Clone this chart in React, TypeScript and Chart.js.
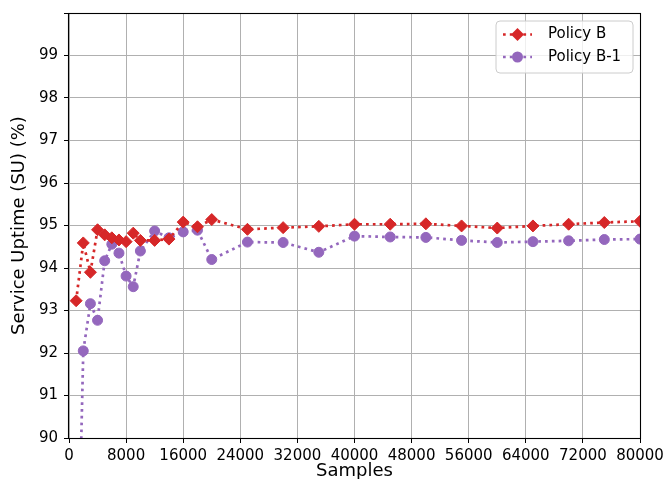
import React, { useEffect, useRef } from "react";
import { Chart, registerables } from "chart.js";

Chart.register(...registerables);

const samples = [1000, 2000, 3000, 4000, 5000, 6000, 7000, 8000, 9000, 10000, 12000, 14000, 16000, 18000, 20000, 25000, 30000, 35000, 40000, 45000, 50000, 55000, 60000, 65000, 70000, 75000, 80000];
const policyB = [93.23, 94.59, 93.9, 94.9, 94.78, 94.71, 94.66, 94.62, 94.82, 94.65, 94.65, 94.68, 95.08, 94.97, 95.14, 94.91, 94.95, 94.98, 95.03, 95.03, 95.04, 94.99, 94.94, 94.99, 95.03, 95.07, 95.1];
const policyB1 = [84.7, 92.05, 93.16, 92.77, 94.17, 94.56, 94.35, 93.81, 93.56, 94.4, 94.87, 94.71, 94.85, 94.89, 94.2, 94.61, 94.6, 94.37, 94.75, 94.73, 94.72, 94.65, 94.6, 94.62, 94.64, 94.67, 94.68];
const seriesNames = ["Policy B", "Policy B-1"];
const xTitle = "Samples";
const yTitle = "Service Uptime (SU) (%)";

const RED = "#d62728";
const PURPLE = "#9467bd";
const FONT = "DejaVu Sans";

const framePlugin = {
  id: "frame",
  afterDatasetsDraw(chart: any) {
    const { ctx, chartArea } = chart;
    const l = Math.round(chartArea.left) - 0.5;
    const t = Math.round(chartArea.top) + 0.5;
    const r = Math.round(chartArea.right) + 0.5;
    const b = Math.round(chartArea.bottom) + 0.5;
    ctx.save();
    ctx.strokeStyle = "#000";
    ctx.lineWidth = 1.1;
    ctx.strokeRect(l, t, r - l, b - t);
    ctx.restore();
  },
  afterDraw(chart: any) {
    const { ctx, chartArea } = chart;
    const w = 137;
    const h = 52;
    const x0 = chartArea.right - 7 - w;
    const y0 = chartArea.top + 8;
    ctx.save();
    const rad = 4;
    ctx.beginPath();
    ctx.moveTo(x0 + rad, y0);
    ctx.lineTo(x0 + w - rad, y0);
    ctx.arcTo(x0 + w, y0, x0 + w, y0 + rad, rad);
    ctx.lineTo(x0 + w, y0 + h - rad);
    ctx.arcTo(x0 + w, y0 + h, x0 + w - rad, y0 + h, rad);
    ctx.lineTo(x0 + rad, y0 + h);
    ctx.arcTo(x0, y0 + h, x0, y0 + h - rad, rad);
    ctx.lineTo(x0, y0 + rad);
    ctx.arcTo(x0, y0, x0 + rad, y0, rad);
    ctx.closePath();
    ctx.fillStyle = "rgba(255,255,255,0.8)";
    ctx.fill();
    ctx.strokeStyle = "#cccccc";
    ctx.lineWidth = 1;
    ctx.stroke();

    const rows = [
      { name: seriesNames[0], color: RED, shape: "diamond", y: y0 + 13.5 },
      { name: seriesNames[1], color: PURPLE, shape: "circle", y: y0 + 36 },
    ];
    rows.forEach((row) => {
      const lx0 = x0 + 7;
      const lx1 = x0 + 36;
      const cx = (lx0 + lx1) / 2;
      ctx.beginPath();
      ctx.setLineDash([2.7, 4.1]);
      ctx.strokeStyle = row.color;
      ctx.lineWidth = 2.7;
      ctx.moveTo(lx0, row.y);
      ctx.lineTo(lx1, row.y);
      ctx.stroke();
      ctx.setLineDash([]);
      ctx.fillStyle = row.color;
      ctx.beginPath();
      if (row.shape === "diamond") {
        const r = 6.5;
        ctx.moveTo(cx - r, row.y);
        ctx.lineTo(cx, row.y - r);
        ctx.lineTo(cx + r, row.y);
        ctx.lineTo(cx, row.y + r);
        ctx.closePath();
      } else {
        ctx.arc(cx, row.y, 5.5, 0, Math.PI * 2);
      }
      ctx.fill();
      ctx.fillStyle = "#000";
      ctx.font = `15px "${FONT}"`;
      ctx.textBaseline = "middle";
      ctx.textAlign = "left";
      ctx.fillText(row.name, x0 + 52, row.y);
    });
    ctx.restore();
  },
};

export default function App() {
  const ref = useRef<HTMLCanvasElement | null>(null);
  useEffect(() => {
    if (!ref.current) return;
    Chart.defaults.font.family = FONT;
    const chart = new Chart(ref.current, {
      type: "line",
      data: {
        datasets: [
          {
            label: seriesNames[0],
            data: samples.map((s, i) => ({ x: s, y: policyB[i] })),
            borderColor: RED,
            backgroundColor: RED,
            borderWidth: 2.7,
            borderDash: [2.7, 4.1],
            pointStyle: "rectRot",
            pointRadius: 6,
            pointBorderWidth: 1,
            pointBackgroundColor: RED,
            pointBorderColor: RED,
            tension: 0,
            clip: 0,
          },
          {
            label: seriesNames[1],
            data: samples.map((s, i) => ({ x: s, y: policyB1[i] })),
            borderColor: PURPLE,
            backgroundColor: PURPLE,
            borderWidth: 2.7,
            borderDash: [2.7, 4.1],
            pointStyle: "circle",
            pointRadius: 5,
            pointBorderWidth: 1,
            pointBackgroundColor: PURPLE,
            pointBorderColor: PURPLE,
            tension: 0,
            clip: 0,
          },
        ],
      },
      options: {
        responsive: false,
        animation: false,
        layout: { padding: { top: 13, right: 28, left: 0, bottom: 0 } },
        plugins: { legend: { display: false }, tooltip: { enabled: false } },
        scales: {
          x: {
            type: "linear",
            min: 0,
            max: 80000,
            grid: { color: "#b0b0b0", lineWidth: 1, tickColor: "#000", tickLength: 5 },
            border: { display: false },
            ticks: {
              stepSize: 8000,
              color: "#000",
              font: { size: 15, family: FONT },
              padding: 4,
              maxRotation: 0,
              autoSkip: false,
              callback: (v: any) => String(v),
            },
            title: {
              display: true,
              text: xTitle,
              color: "#000",
              font: { size: 18, family: FONT },
              padding: { top: 0, bottom: -3 },
            },
            afterFit: (s: any) => {
              s.height = 41;
              s.paddingLeft = 0;
              s.paddingRight = 0;
            },
          },
          y: {
            min: 90,
            max: 100,
            grid: { color: "#b0b0b0", lineWidth: 1, tickColor: "#000", tickLength: 5 },
            border: { display: false },
            ticks: {
              stepSize: 1,
              color: "#000",
              font: { size: 15, family: FONT },
              padding: 6,
              callback: (v: any) => (v >= 100 ? "" : String(v)),
            },
            title: {
              display: true,
              text: yTitle,
              color: "#000",
              font: { size: 18, family: FONT },
              padding: { top: 9, bottom: 0 },
            },
            afterFit: (s: any) => {
              s.width = 69;
              s.paddingTop = 0;
              s.paddingBottom = 0;
            },
          },
        },
      },
      plugins: [framePlugin],
    });
    return () => chart.destroy();
  }, []);
  return (
    <div style={{ position: "absolute", left: 0, top: 0, width: 668, height: 479, background: "#fff" }}>
      <canvas ref={ref} width={668} height={479} style={{ display: "block" }} />
    </div>
  );
}
